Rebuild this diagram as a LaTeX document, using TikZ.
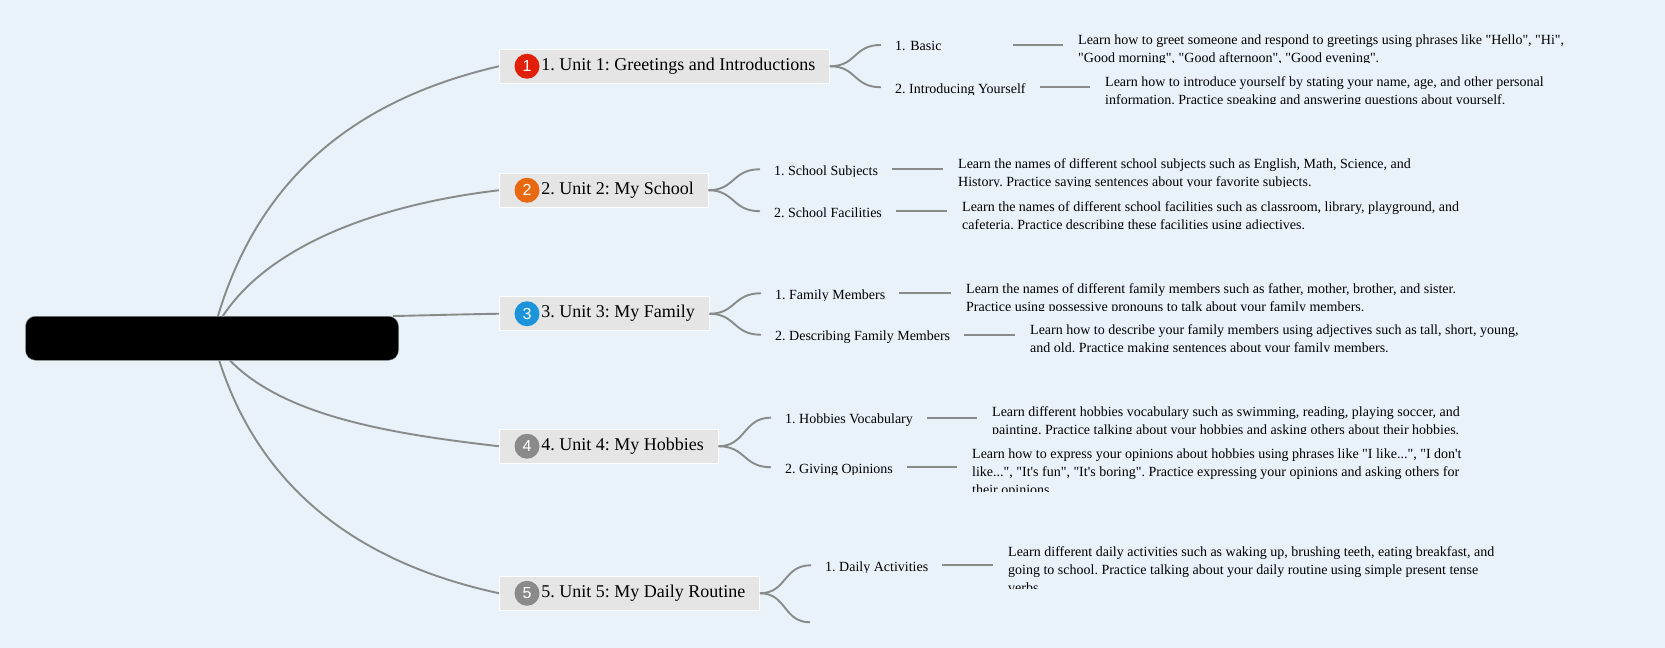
\documentclass[tikz,border=0pt]{standalone}
\usepackage{fontspec}
\usepackage{tikz}
\usetikzlibrary{calc}
\newfontfamily\mapfont{Liberation Serif}
\newfontfamily\badgefont{Liberation Sans}
\frenchspacing
\definecolor{pagefill}{HTML}{E9F1F9}
\definecolor{linegray}{HTML}{878B8A}
\definecolor{unitfill}{HTML}{E5E5E5}
\definecolor{badgeRed}{HTML}{E0200A}
\definecolor{badgeOrange}{HTML}{E8680F}
\definecolor{badgeBlue}{HTML}{1B94DA}
\definecolor{badgeGray}{HTML}{8A8A8A}
\tikzset{
    rootbox/.style={fill=black, draw=linegray, line width=0.4pt, rounded corners=10pt, minimum width=373pt, minimum height=44pt},
    unitbox/.style={anchor=west, fill=unitfill, draw=white, line width=0.8pt, inner xsep=14pt, inner ysep=7pt, text height=14pt, text depth=6pt, font=\mapfont\fontsize{18}{22}\selectfont, execute at begin node=\hspace*{28pt}},
    badge/.style={circle, inner sep=0pt, minimum size=25pt, text=white, font=\badgefont\fontsize{16}{18}\selectfont},
    topicbox/.style={anchor=west, inner xsep=14pt, inner ysep=0pt, text height=14pt, text depth=2pt, font=\mapfont\fontsize{14}{18}\selectfont},
    descbox/.style={anchor=north west, inner xsep=15pt, inner ysep=0pt, align=left, font=\mapfont\fontsize{14}{18}\selectfont},
    link/.style={draw=linegray, line width=1.9pt},
    branch/.style={link}
}
% texts are cut at the lower edge of their box
\newcommand{\topicnode}[5][]{\begin{scope}
        \clip (#3,#4-20) rectangle (#3+300,#4+7.5);
        \node[topicbox,#1] (#2) at (#3,#4) {#5};
    \end{scope}}
\newcommand{\descnode}[5]{\begin{scope}
        \clip (#2,#3) rectangle (#2+600,#4);
        \node[descbox] (#1) at (#2,#3+5.3) {#5};
    \end{scope}}
\begin{document}
\begin{tikzpicture}[x=1pt,y=-1pt]
        \useasboundingbox (0,0.75) rectangle (1665,648.25);
        \fill[pagefill] (0,0) rectangle (1665,649);

        \node[rootbox] (root) at (212,339) {};

        \node[unitbox] (greetings) at (499,67) {1. Unit 1: Greetings and Introductions};
        \node[unitbox] (school) at (499,191) {2. Unit 2: My School};
        \node[unitbox] (family) at (499,314.5) {3. Unit 3: My Family};
        \node[unitbox] (hobbies) at (499,447) {4. Unit 4: My Hobbies};
        \node[unitbox] (routine) at (499,594) {5. Unit 5: My Daily Routine};

        \node[badge, fill=badgeRed] (badgeOne) at (527,67) {1};
        \node[badge, fill=badgeOrange] (badgeTwo) at (527,191) {2};
        \node[badge, fill=badgeBlue] (badgeThree) at (527,314.5) {3};
        \node[badge, fill=badgeGray] (badgeFour) at (527,447) {4};
        \node[badge, fill=badgeGray] (badgeFive) at (527,594) {5};

        \topicnode[text width=104pt]{basic}{881}{45.7}{1. Basic}
        \topicnode{introducing}{881}{88}{2. Introducing Yourself}
        \topicnode{subjects}{760}{170}{1. School Subjects}
        \topicnode{facilities}{760}{212}{2. School Facilities}
        \topicnode{members}{761}{294}{1. Family Members}
        \topicnode{describing}{761}{335.5}{2. Describing Family Members}
        \topicnode{vocabulary}{771}{418.4}{1. Hobbies Vocabulary}
        \topicnode{opinions}{771}{468}{2. Giving Opinions}
        \topicnode{activities}{811}{566}{1. Daily Activities}
        \coordinate (routineEnd) at (810,623);

        \descnode{basicText}{1063}{30}{63}{Learn how to greet someone and respond to greetings using phrases like "Hello", "Hi",\\"Good morning", "Good afternoon", "Good evening".}
        \descnode{introducingText}{1090}{71.5}{104.5}{Learn how to introduce yourself by stating your name, age, and other personal\\information. Practice speaking and answering questions about yourself.}
        \descnode{subjectsText}{943}{154}{187}{Learn the names of different school subjects such as English, Math, Science, and\\History. Practice saying sentences about your favorite subjects.}
        \descnode{facilitiesText}{947}{196.5}{229.5}{Learn the names of different school facilities such as classroom, library, playground, and\\cafeteria. Practice describing these facilities using adjectives.}
        \descnode{membersText}{951}{278.5}{311.5}{Learn the names of different family members such as father, mother, brother, and sister.\\Practice using possessive pronouns to talk about your family members.}
        \descnode{describingText}{1015}{319.5}{352.5}{Learn how to describe your family members using adjectives such as tall, short, young,\\and old. Practice making sentences about your family members.}
        \descnode{vocabularyText}{977}{401.5}{434.5}{Learn different hobbies vocabulary such as swimming, reading, playing soccer, and\\painting. Practice talking about your hobbies and asking others about their hobbies.}
        \descnode{opinionsText}{957}{444}{492}{Learn how to express your opinions about hobbies using phrases like "I like...", "I don't\\like...", "It's fun", "It's boring". Practice expressing your opinions and asking others for\\their opinions.}
        \descnode{activitiesText}{993}{541.5}{589.5}{Learn different daily activities such as waking up, brushing teeth, eating breakfast, and\\going to school. Practice talking about your daily routine using simple present tense\\verbs.}

        \draw[link] (root.75) .. controls (262,170) and (365,98) .. (greetings.west);
        \draw[link] (root.64) .. controls (270,245) and (380,205) .. (school.west);
        \draw[link] (root.7) .. controls (430,316) and (465,315) .. (family.west);
        \draw[link] (root.-51) .. controls (285,418) and (395,435) .. (hobbies.west);
        \draw[link] (root.-72) .. controls (262,495) and (365,565) .. (routine.west);

        \draw[branch] (greetings.east) .. controls (857,67) and (853,45.7) .. (basic.west);
        \draw[branch] (greetings.east) .. controls (857,67) and (853,88) .. (introducing.west);
        \draw[branch] (school.east) .. controls (735,191) and (732,170) .. (subjects.west);
        \draw[branch] (school.east) .. controls (735,191) and (732,212) .. (facilities.west);
        \draw[branch] (family.east) .. controls (736,314.5) and (733,294) .. (members.west);
        \draw[branch] (family.east) .. controls (736,314.5) and (733,335.5) .. (describing.west);
        \draw[branch] (hobbies.east) .. controls (746,447) and (743,418.4) .. (vocabulary.west);
        \draw[branch] (hobbies.east) .. controls (746,447) and (743,468) .. (opinions.west);
        \draw[branch] (routine.east) .. controls (787,594) and (783,566) .. (activities.west);
        \draw[branch] (routine.east) .. controls (787,594) and (783,623) .. (routineEnd);

        \draw[branch] (basic.east) -- (basic.east -| basicText.west);
        \draw[branch] (introducing.east) -- (introducing.east -| introducingText.west);
        \draw[branch] (subjects.east) -- (subjects.east -| subjectsText.west);
        \draw[branch] (facilities.east) -- (facilities.east -| facilitiesText.west);
        \draw[branch] (members.east) -- (members.east -| membersText.west);
        \draw[branch] (describing.east) -- (describing.east -| describingText.west);
        \draw[branch] (vocabulary.east) -- (vocabulary.east -| vocabularyText.west);
        \draw[branch] (opinions.east) -- (opinions.east -| opinionsText.west);
        \draw[branch] (activities.east) -- (activities.east -| activitiesText.west);
    \end{tikzpicture}
\end{document}
